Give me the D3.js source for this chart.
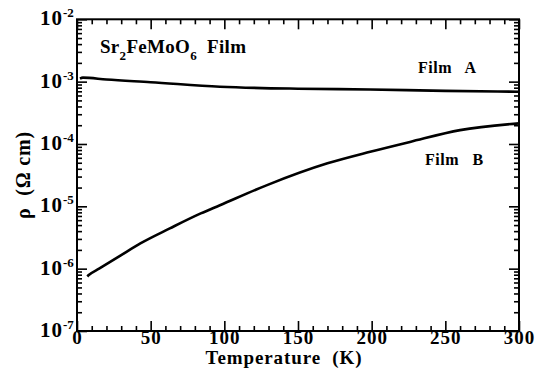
<!DOCTYPE html>
<html><head><meta charset="utf-8">
<script src="https://cdn.jsdelivr.net/npm/d3@7"></script>
<style>body{margin:0;background:#fff}svg{display:block}</style>
</head><body>
<svg id="c" width="537" height="383"></svg>
<script>
const tempA = [2, 4, 20, 50, 97, 150, 199, 250, 300];
const rhoA  = [1.12e-3, 1.16e-3, 1.08e-3, 9.8e-4, 8.3e-4, 7.7e-4, 7.5e-4, 7.1e-4, 6.9e-4];
const tempB = [7, 8, 15, 30, 43, 63, 84, 97, 129, 170, 199, 226, 260, 300];
const rhoB  = [7.5e-7, 7.9e-7, 1.0e-6, 1.65e-6, 2.54e-6, 4.42e-6, 7.69e-6, 1.04e-5, 2.19e-5, 4.89e-5, 7.5e-5, 1.08e-4, 1.67e-4, 2.14e-4];
const xTicks = [0, 50, 100, 150, 200, 250, 300];
const yExponents = [-2, -3, -4, -5, -6, -7];

const FONT = '"Liberation Serif", "Times New Roman", serif';
const svg = d3.select("#c");
const L = 77, R = 519, T = 19.3, B = 331;
const x = d3.scaleLinear().domain([0, 300]).range([L, R]);
const y = d3.scaleLog().domain([1e-7, 1e-2]).range([B, T]);

const minorX = d3.range(0, 301, 10).filter(v => v % 50 !== 0);
const minorY = [];
for (let e = -7; e < -2; e++) for (let m = 2; m <= 9; m++) minorY.push(m * Math.pow(10, e));
const majorY = yExponents.map(e => Math.pow(10, e));

function styleAxis(g){ g.select(".domain").remove(); g.selectAll("line").attr("stroke","#000").attr("stroke-width",1.6); g.selectAll("text").remove(); }

svg.append("g").attr("transform",`translate(0,${B})`).call(d3.axisBottom(x).tickValues(xTicks).tickSize(-10)).call(styleAxis);
svg.append("g").attr("transform",`translate(0,${B})`).call(d3.axisBottom(x).tickValues(minorX).tickSize(-5)).call(styleAxis);
svg.append("g").attr("transform",`translate(0,${T})`).call(d3.axisTop(x).tickValues(xTicks).tickSize(-10)).call(styleAxis);
svg.append("g").attr("transform",`translate(0,${T})`).call(d3.axisTop(x).tickValues(minorX).tickSize(-5)).call(styleAxis);
svg.append("g").attr("transform",`translate(${L},0)`).call(d3.axisLeft(y).tickValues(majorY).tickSize(-10)).call(styleAxis);
svg.append("g").attr("transform",`translate(${L},0)`).call(d3.axisLeft(y).tickValues(minorY).tickSize(-5)).call(styleAxis);
svg.append("g").attr("transform",`translate(${R},0)`).call(d3.axisRight(y).tickValues(majorY).tickSize(-10)).call(styleAxis);
svg.append("g").attr("transform",`translate(${R},0)`).call(d3.axisRight(y).tickValues(minorY).tickSize(-5)).call(styleAxis);

svg.append("rect").attr("x",L).attr("y",T).attr("width",R-L).attr("height",B-T)
  .attr("fill","none").attr("stroke","#000").attr("stroke-width",2);

function txt(sel, size, ls){ return sel.style("font-family", FONT).style("font-weight","bold").style("font-size", size + "px")
  .style("letter-spacing", (ls || 0) + "px").attr("fill","#000"); }

svg.append("g").selectAll("text").data(xTicks).join("text").call(txt, 19, 1)
  .attr("x", d => x(d) + 0.5).attr("y", 344).attr("text-anchor","middle").text(d => d);
const yl = svg.append("g").selectAll("text").data(yExponents).join("text").call(txt, 21, 1)
  .attr("x", 40).attr("y", d => y(Math.pow(10,d)) + 6);
yl.append("tspan").text("10");
yl.append("tspan").style("font-size","13px").style("letter-spacing","0px").attr("dy",-8).text(d => "-" + Math.abs(d));

svg.append("text").call(txt, 19, 0.9).attr("x",284).attr("y",364).attr("text-anchor","middle").text("Temperature\u00a0 (K)");
svg.append("text").call(txt, 20, 0.8).attr("transform","translate(30,175) rotate(-90)").attr("text-anchor","middle")
  .text("ρ\u00a0 (Ω cm)");

const t = svg.append("text").call(txt, 19, 0.3).attr("x",100).attr("y",53.3);
t.append("tspan").text("Sr");
t.append("tspan").style("font-size","13px").attr("dy",7).text("2");
t.append("tspan").attr("dy",-7).text("FeMoO");
t.append("tspan").style("font-size","13px").attr("dy",7).text("6");
t.append("tspan").attr("dy",-7).text("\u00a0 Film");

svg.append("text").call(txt, 16, 0.5).attr("x",418).attr("y",73.3).text("Film\u00a0\u00a0 A");
svg.append("text").call(txt, 16, 0.5).attr("x",425).attr("y",165).text("Film\u00a0\u00a0 B");

const line = d3.line().x(d => x(d[0])).y(d => y(d[1])).curve(d3.curveMonotoneX);
svg.append("path").datum(tempA.map((v,i)=>[v,rhoA[i]])).attr("d",line).attr("fill","none").attr("stroke","#000").attr("stroke-width",2.6);
svg.append("path").datum(tempB.map((v,i)=>[v,rhoB[i]])).attr("d",line).attr("fill","none").attr("stroke","#000").attr("stroke-width",2.6);
</script>
</body></html>
